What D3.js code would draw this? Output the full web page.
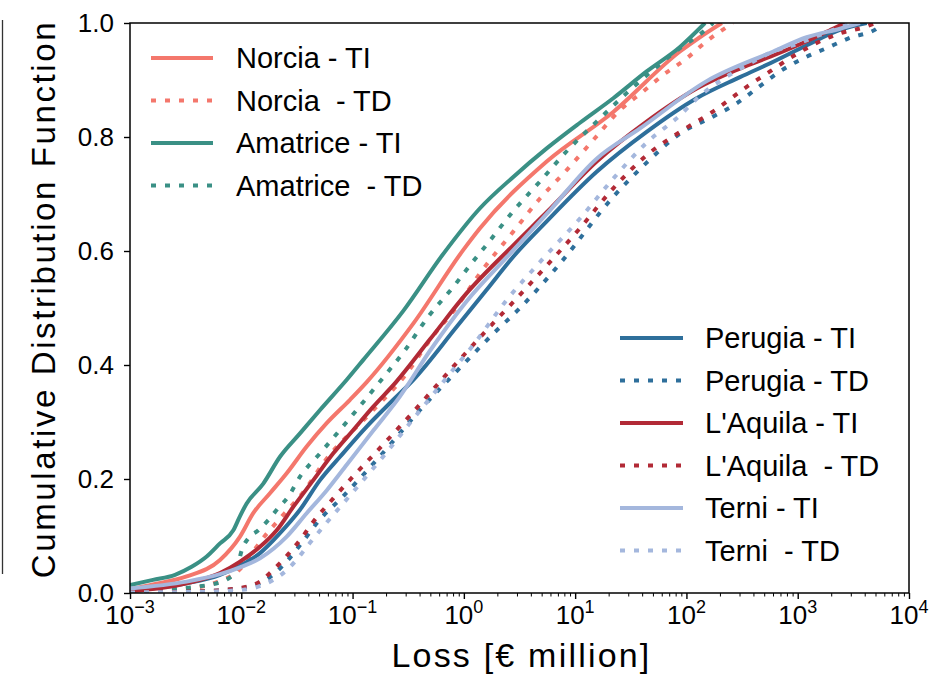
<!DOCTYPE html>
<html><head><meta charset="utf-8">
<script src="https://cdn.jsdelivr.net/npm/d3@7"></script>
<style>
body{margin:0;background:#fff}
text{font-family:"Liberation Sans",Arial,Helvetica,sans-serif;fill:#000}
</style>
</head><body>
<svg id="chart" width="946" height="679"></svg>
<script>
// ---- data: [loss (€ million), cumulative probability] ----
const norciaTI = [[0.001,0.007],[0.00161,0.015],[0.00323,0.029],[0.00644,0.058],[0.00974,0.099],[0.0128,0.14],[0.0181,0.175],[0.0256,0.21],[0.0387,0.257],[0.0585,0.298],[0.0948,0.339],[0.134,0.37],[0.352,0.473],[0.989,0.602],[1.396,0.64],[5.55,0.757],[22.0,0.844],[87.5,0.95],[132,0.975],[208,1.0]];
const norciaTD = [[0.001,0.002],[0.00281,0.006],[0.00621,0.02],[0.00974,0.042],[0.01156,0.061],[0.01567,0.096],[0.02307,0.134],[0.03737,0.181],[0.0546,0.228],[0.1434,0.315],[0.306,0.385],[0.4962,0.444],[0.862,0.502],[1.396,0.561],[2.78,0.634],[4.83,0.692],[8.39,0.742],[14.6,0.795],[25.3,0.847],[40.9,0.88],[61.9,0.909],[100.5,0.938],[152,0.968],[262,1.0]];
const amatriceTI = [[0.001,0.014],[0.00161,0.023],[0.00254,0.032],[0.00358,0.046],[0.00489,0.064],[0.00644,0.087],[0.00848,0.11],[0.00974,0.135],[0.01118,0.157],[0.01577,0.192],[0.02227,0.239],[0.0337,0.28],[0.051,0.321],[0.0886,0.374],[0.1248,0.409],[0.2857,0.495],[0.6535,0.595],[1.396,0.675],[2.78,0.73],[5.55,0.78],[11.05,0.825],[22.0,0.868],[43.9,0.915],[87.5,0.958],[146.8,1.0]];
const amatriceTD = [[0.001,0.003],[0.00472,0.013],[0.0082,0.029],[0.0094,0.052],[0.01009,0.075],[0.01156,0.096],[0.01422,0.11],[0.01748,0.128],[0.0215,0.149],[0.02645,0.169],[0.0337,0.204],[0.051,0.245],[0.1089,0.321],[0.1764,0.371],[0.2958,0.426],[0.4791,0.485],[0.8035,0.537],[1.135,0.575],[1.603,0.611],[2.78,0.67],[4.83,0.722],[8.39,0.775],[15.61,0.827],[29.0,0.877],[54.0,0.923],[87.5,0.956],[132,0.98],[173.2,1.0]];
const perugiaTI = [[0.001,0.004],[0.00323,0.017],[0.00644,0.032],[0.00974,0.048],[0.01473,0.07],[0.02227,0.105],[0.0337,0.146],[0.051,0.198],[0.0771,0.239],[0.134,0.292],[0.2323,0.339],[0.352,0.374],[0.862,0.467],[1.603,0.532],[2.78,0.59],[5.55,0.652],[15.61,0.739],[43.9,0.809],[123.6,0.868],[302.8,0.905],[603,0.932],[1204,0.961],[2398,0.988],[4166,1.0]];
const perugiaTD = [[0.001,0.001],[0.00426,0.003],[0.00974,0.008],[0.01567,0.02],[0.0201,0.035],[0.0263,0.058],[0.0366,0.093],[0.0489,0.125],[0.0825,0.17],[0.1764,0.24],[0.4034,0.321],[0.923,0.395],[1.839,0.455],[3.194,0.5],[7.31,0.578],[22.0,0.695],[43.9,0.755],[87.5,0.806],[174.3,0.836],[282.8,0.859],[427.8,0.885],[692.8,0.915],[1122,0.938],[1821,0.956],[2949,0.974],[5123,0.99],[5483,1.0]];
const aquilaTI = [[0.001,0.003],[0.00323,0.017],[0.00644,0.035],[0.00974,0.055],[0.01473,0.081],[0.0208,0.11],[0.0293,0.151],[0.0444,0.198],[0.0671,0.245],[0.1015,0.286],[0.1536,0.327],[0.2456,0.37],[0.4962,0.445],[1.06,0.526],[2.78,0.61],[5.55,0.668],[15.61,0.757],[43.9,0.827],[123.6,0.885],[302.8,0.92],[603,0.943],[1204,0.968],[2074,0.99],[2659,1.0]];
const aquilaTD = [[0.001,0.001],[0.00426,0.003],[0.0091,0.008],[0.01473,0.02],[0.0181,0.035],[0.0237,0.058],[0.0337,0.093],[0.0444,0.125],[0.0671,0.166],[0.1015,0.205],[0.1536,0.242],[0.352,0.318],[0.8035,0.397],[1.603,0.461],[2.984,0.517],[6.36,0.587],[11.05,0.64],[22.0,0.71],[43.9,0.768],[89.3,0.81],[174.3,0.845],[347.8,0.888],[563.2,0.915],[912.5,0.942],[1480,0.965],[2398,0.982],[4166,0.994],[4945,1.0]];
const terniTI = [[0.001,0.008],[0.00323,0.02],[0.00644,0.033],[0.00974,0.045],[0.01473,0.061],[0.0256,0.099],[0.0387,0.14],[0.0585,0.18],[0.0886,0.225],[0.1536,0.285],[0.2668,0.345],[0.4962,0.425],[1.06,0.512],[2.597,0.595],[5.55,0.665],[15.61,0.762],[38.25,0.815],[152,0.898],[603,0.95],[1204,0.975],[2398,0.99],[3627,1.0]];
const terniTD = [[0.001,0.001],[0.00426,0.002],[0.0108,0.006],[0.01738,0.018],[0.0232,0.033],[0.0304,0.055],[0.0414,0.088],[0.0565,0.12],[0.0891,0.165],[0.1839,0.237],[0.4034,0.32],[0.7505,0.385],[1.2155,0.435],[2.425,0.514],[5.17,0.587],[11.05,0.657],[22.0,0.727],[43.9,0.79],[87.5,0.838],[132,0.872],[214.4,0.902],[347.8,0.926],[603,0.95],[979,0.963],[1585,0.979],[2754,0.996],[3270,1.0]];

const lossTicks = [1e-3,1e-2,1e-1,1,1e1,1e2,1e3,1e4];
const lossTickExponents = ["\u22123","\u22122","\u22121","0","1","2","3","4"];
const cdfTicks = [0,0.2,0.4,0.6,0.8,1.0];
const cdfTickLabels = ["0.0","0.2","0.4","0.6","0.8","1.0"];

const seriesNames = ["Norcia - TI","Norcia  - TD","Amatrice - TI","Amatrice  - TD","Perugia - TI","Perugia - TD","L'Aquila - TI","L'Aquila  - TD","Terni - TI","Terni  - TD"];
const seriesData = [norciaTI,norciaTD,amatriceTI,amatriceTD,perugiaTI,perugiaTD,aquilaTI,aquilaTD,terniTI,terniTD];
const seriesColors = ["#F4776C","#F4776C","#3A9085","#3A9085","#2E6F9B","#2E6F9B","#B22A36","#B22A36","#A4B7DD","#A4B7DD"];
const seriesDotted = [false,true,false,true,false,true,false,true,false,true];
const legendGroups = [[0,1,2,3],[4,5,6,7,8,9]];

// ---- drawing ----
const svg = d3.select("#chart");
const L = 130, R = 909, T = 23, B = 593;
const x = d3.scaleLog().domain([1e-3,1e4]).range([L,R]);
const y = d3.scaleLinear().domain([0,1]).range([B,T]);

// stray left border line of the original figure
svg.append("line").attr("x1",2.5).attr("x2",2.5).attr("y1",20).attr("y2",574)
  .attr("stroke","#333").attr("stroke-width",1.3);

svg.append("clipPath").attr("id","clip").append("rect")
  .attr("x",L).attr("y",T).attr("width",R-L).attr("height",B-T);

const line = d3.line().x(d=>x(d[0])).y(d=>y(d[1])).curve(d3.curveMonotoneX);
const plot = svg.append("g").attr("clip-path","url(#clip)");
seriesData.forEach((data,i)=>{
  plot.append("path").datum(data).attr("d",line)
    .attr("fill","none").attr("stroke",seriesColors[i])
    .attr("stroke-width",4)
    .attr("stroke-dasharray",seriesDotted[i]?"5,9":null)
    .attr("stroke-linejoin","round");
});

// x axis major
const xAxis = svg.append("g").attr("transform",`translate(0,${B})`)
  .call(d3.axisBottom(x).tickValues(lossTicks).tickSize(6).tickFormat(""));
xAxis.select(".domain").remove();
xAxis.selectAll(".tick line").attr("stroke","#000").attr("stroke-width",1.4);
// x axis minor
const minor = [];
lossTicks.slice(0,-1).forEach(t=>{for(let k=2;k<10;k++)minor.push(t*k);});
const xMinor = svg.append("g").attr("transform",`translate(0,${B})`)
  .call(d3.axisBottom(x).tickValues(minor).tickSize(3.5).tickFormat(""));
xMinor.select(".domain").remove();
xMinor.selectAll(".tick line").attr("stroke","#000").attr("stroke-width",1);

// x tick labels with superscripts
lossTicks.forEach((t,i)=>{
  const tx = svg.append("text").attr("x",x(t)).attr("y",624)
    .attr("text-anchor","middle").style("font-size","26px");
  tx.append("tspan").text("10");
  tx.append("tspan").attr("dy",-11).style("font-size","18px").text(lossTickExponents[i]);
});

// y axis
const yAxis = svg.append("g").attr("transform",`translate(${L},0)`)
  .call(d3.axisLeft(y).tickValues(cdfTicks).tickSize(6).tickPadding(10).tickFormat((d,i)=>cdfTickLabels[i]));
yAxis.select(".domain").remove();
yAxis.selectAll(".tick line").attr("stroke","#000").attr("stroke-width",1.4);
yAxis.selectAll(".tick text").style("font-size","26px").style("font-family","'Liberation Sans',Arial,sans-serif").attr("fill","#000");

// frame
svg.append("rect").attr("x",L).attr("y",T).attr("width",R-L).attr("height",B-T)
  .attr("fill","none").attr("stroke","#000").attr("stroke-width",1.5);

// axis titles
svg.append("text").attr("x",(L+R)/2+2).attr("y",667).attr("text-anchor","middle")
  .style("font-size","34px").style("letter-spacing","2.2px").text("Loss [\u20AC million]");
svg.append("text").attr("transform",`translate(55,${(T+B)/2-9}) rotate(-90)`)
  .attr("text-anchor","middle").style("font-size","33px").style("letter-spacing","2.6px")
  .text("Cumulative Distribution Function");

// legends
const legendPos = [{x1:151,x2:213,tx:236,y0:58},{x1:620,x2:683,tx:705,y0:338}];
legendGroups.forEach((grp,g)=>{
  const p = legendPos[g];
  grp.forEach((si,k)=>{
    const yy = p.y0 + k*42.5;
    svg.append("line").attr("x1",p.x1).attr("x2",p.x2).attr("y1",yy).attr("y2",yy)
      .attr("stroke",seriesColors[si]).attr("stroke-width",4)
      .attr("stroke-dasharray",seriesDotted[si]?"5,9":null);
    svg.append("text").attr("x",p.tx).attr("y",yy+10).attr("xml:space","preserve")
      .style("white-space","pre").style("font-size","29px").text(seriesNames[si]);
  });
});
</script>
</body></html>
